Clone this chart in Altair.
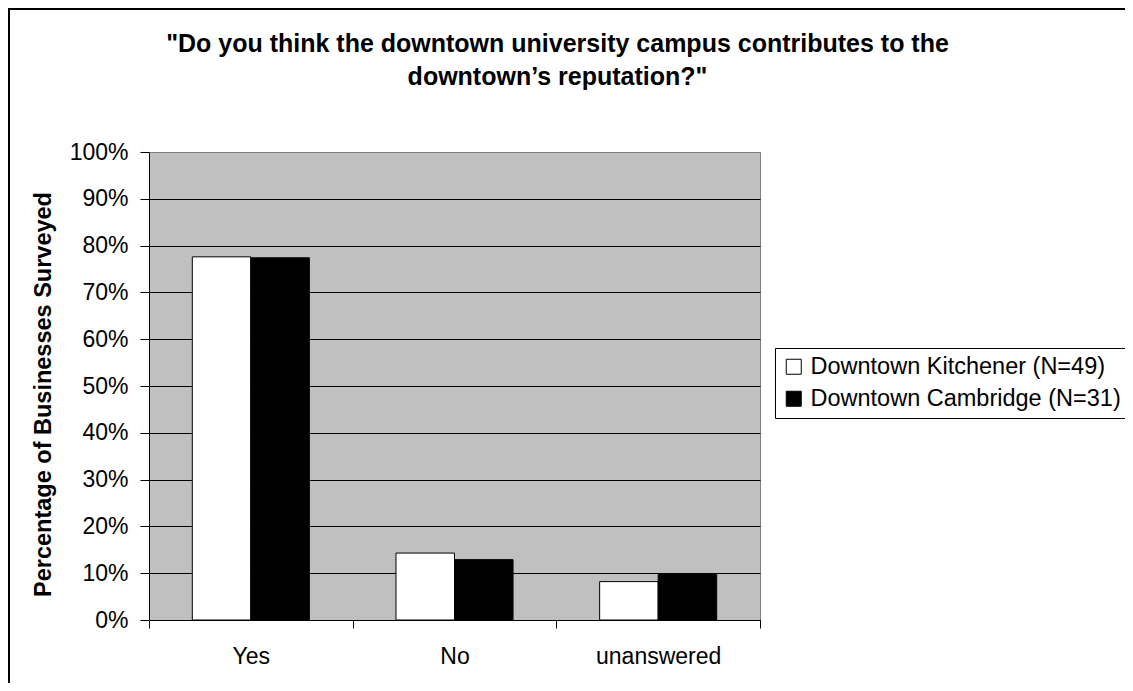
import altair as alt
import pandas as pd

categories = ["Yes", "No", "unanswered"]
series = ["Downtown Kitchener (N=49)", "Downtown Cambridge (N=31)"]
kitchener = [77.6, 14.3, 8.2]
cambridge = [77.4, 12.9, 9.7]
y_ticks = [0, 10, 20, 30, 40, 50, 60, 70, 80, 90, 100]

rows = []
for c, v in zip(categories, kitchener):
    rows.append({"category": c, "series": series[0], "value": v})
for c, v in zip(categories, cambridge):
    rows.append({"category": c, "series": series[1], "value": v})
df = pd.DataFrame(rows)

FONT = "Liberation Sans"

bars = alt.Chart(df).mark_bar(stroke="black", strokeWidth=1, opacity=1).encode(
    x=alt.X("category:N", sort=categories,
            scale=alt.Scale(paddingInner=0, paddingOuter=0),
            axis=alt.Axis(title=None, labelAngle=0, labelFontSize=23, labelFont=FONT,
                          labelColor="black", tickBand="extent", tickSize=8,
                          tickColor="black", domainColor="black", labelPadding=17,
                          grid=False)),
    xOffset=alt.XOffset("series:N", sort=series,
                        scale=alt.Scale(paddingInner=0, paddingOuter=0.74)),
    y=alt.Y("value:Q", scale=alt.Scale(domain=[0, 100], nice=False),
            axis=alt.Axis(values=y_ticks, labelExpr="datum.value + '%'",
                          title="Percentage of Businesses Surveyed",
                          titleFontSize=23.5, titleFont=FONT, titleFontWeight="bold",
                          titleColor="black", titleX=-106, titleY=242, titleAngle=-90,
                          titleAlign="center", titleBaseline="middle",
                          labelFontSize=23, labelFont=FONT, labelColor="black",
                          tickSize=9, tickColor="black", labelPadding=12,
                          domainColor="black",
                          grid=True,
                          gridColor={"condition": {"test": "datum.value >= 100", "value": "#808080"},
                                     "value": "black"},
                          gridWidth=1)),
    fill=alt.Fill("series:N", sort=series,
                  scale=alt.Scale(domain=series, range=["white", "black"]),
                  legend=alt.Legend(title=None, orient="none", legendX=626, legendY=196,
                                    symbolType="square", symbolSize=225,
                                    symbolStrokeColor="black", symbolStrokeWidth=1,
                                    labelFontSize=23.5, labelFont=FONT, labelColor="black",
                                    labelOffset=5, rowPadding=7, padding=7,
                                    fillColor="white", strokeColor="black",
                                    labelLimit=500)),
)

frame_src = alt.Data(values=[{"k": 1}])
frame_left = alt.Chart(frame_src).mark_rule(stroke="black", strokeWidth=2).encode(
    x=alt.value(-140), y=alt.value(-143), y2=alt.value(3000)
)
frame_top = alt.Chart(frame_src).mark_rule(stroke="black", strokeWidth=2).encode(
    x=alt.value(-141), x2=alt.value(3000), y=alt.value(-143)
)

chart = alt.layer(frame_left, frame_top, bars).properties(
    width=611, height=468,
    background="white",
    autosize=alt.AutoSizeParams(type="none"),
    padding={"left": 141, "top": 144, "right": 365, "bottom": 63},
    title=alt.TitleParams(
        text=['"Do you think the downtown university campus contributes to the',
              'downtown\u2019s reputation?"'],
        fontSize=25, font=FONT, fontWeight="bold", color="black",
        anchor="middle", dx=103, lineHeight=33, offset=-82),
).configure_view(
    fill="#C0C0C0", stroke="#808080", strokeWidth=1
)

chart.save("out.html", embed_options={"renderer": "svg", "actions": False})
